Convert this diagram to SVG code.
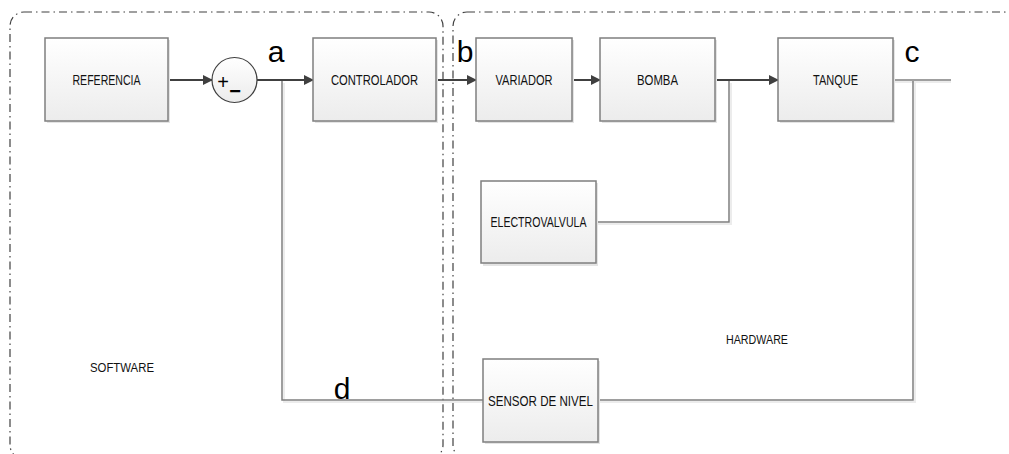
<svg xmlns="http://www.w3.org/2000/svg" width="1009" height="454" viewBox="0 0 1009 454">
<defs>
<linearGradient id="g" x1="0" y1="0" x2="0" y2="1"><stop offset="0" stop-color="#ffffff"/><stop offset="1" stop-color="#ececec"/></linearGradient>
<marker id="ah" markerWidth="10" markerHeight="10" refX="9" refY="5" orient="auto" markerUnits="userSpaceOnUse"><path d="M0,0 L10,5 L0,10 Z" fill="#404040"/></marker>
</defs>
<style>
.box{fill:url(#g);stroke:#7f7f7f;stroke-width:1.5}
.shadow{fill:#e4e4e4}
.lbl{font-family:"Liberation Sans",Arial,sans-serif;font-size:14px;fill:#111;text-anchor:middle}
.big{font-family:"Liberation Sans",Arial,sans-serif;font-size:30px;fill:#000;text-anchor:middle}
.area{fill:none;stroke:#404040;stroke-width:1.2;stroke-dasharray:8 4 1.5 4}
.arr{fill:none;stroke:#404040;stroke-width:2;marker-end:url(#ah)}
.ln{fill:none;stroke:#7f7f7f;stroke-width:1.5}
.lns{fill:none;stroke:#ececec;stroke-width:2}
</style>
<rect width="1009" height="454" fill="#fff"/>
<g id="software-area"><rect class="area" x="10" y="12" width="433" height="447" rx="14"/><text class="lbl" x="122" y="372" style="font-size:12px" textLength="64" lengthAdjust="spacingAndGlyphs">SOFTWARE</text></g>
<g id="hardware-area"><rect class="area" x="453" y="12" width="565" height="447" rx="14"/><text class="lbl" x="757" y="344" style="font-size:12px" textLength="62" lengthAdjust="spacingAndGlyphs">HARDWARE</text></g>
<g id="connectors">
<path class="lns" d="M284,83 V402 H485 M600,402 H915 V83 M731,83 V224 H598 M895,82 H951"/>
<line class="arr" x1="168" y1="80" x2="212" y2="80"/>
<line class="arr" x1="257" y1="80" x2="313" y2="80"/>
<line class="arr" x1="436" y1="80" x2="476" y2="80"/>
<line class="arr" x1="572" y1="80" x2="600" y2="80"/>
<line class="arr" x1="715" y1="80" x2="778" y2="80"/>
<path class="ln" d="M893,80 H951"/>
<path class="ln" d="M282,81 V400 H484"/>
<path class="ln" d="M913,81 V400 H598"/>
<path class="ln" d="M729,81 V222 H596"/>
</g>
<g id="referencia"><rect class="shadow" x="47" y="40" width="123" height="83"/><rect class="box" x="45" y="38" width="123" height="83"/><text class="lbl" x="106.5" y="85" textLength="68" lengthAdjust="spacingAndGlyphs">REFERENCIA</text></g>
<g id="sumador"><circle cx="234.5" cy="80" r="22.5" fill="url(#g)" stroke="#404040" stroke-width="1.2"/><text x="223" y="88.5" font-family="Liberation Sans,Arial,sans-serif" font-size="20" text-anchor="middle" fill="#000">+</text><text x="235" y="98" font-family="Liberation Sans,Arial,sans-serif" font-size="20" font-weight="bold" text-anchor="middle" fill="#000">−</text></g>
<g id="controlador"><rect class="shadow" x="315" y="40" width="123" height="83"/><rect class="box" x="313" y="38" width="123" height="83"/><text class="lbl" x="374.5" y="85" textLength="87" lengthAdjust="spacingAndGlyphs">CONTROLADOR</text></g>
<g id="variador"><rect class="shadow" x="478" y="40" width="96" height="83"/><rect class="box" x="476" y="38" width="96" height="83"/><text class="lbl" x="524" y="85" textLength="57" lengthAdjust="spacingAndGlyphs">VARIADOR</text></g>
<g id="bomba"><rect class="shadow" x="602" y="40" width="115" height="83"/><rect class="box" x="600" y="38" width="115" height="83"/><text class="lbl" x="657.5" y="85" textLength="41" lengthAdjust="spacingAndGlyphs">BOMBA</text></g>
<g id="tanque"><rect class="shadow" x="780" y="40" width="115" height="83"/><rect class="box" x="778" y="38" width="115" height="83"/><text class="lbl" x="835.5" y="85" textLength="45" lengthAdjust="spacingAndGlyphs">TANQUE</text></g>
<g id="electrovalvula"><rect class="shadow" x="483" y="183" width="115" height="83"/><rect class="box" x="481" y="181" width="115" height="82"/><text class="lbl" x="538.5" y="227" textLength="96" lengthAdjust="spacingAndGlyphs">ELECTROVALVULA</text></g>
<g id="sensor"><rect class="shadow" x="485" y="361" width="115" height="83"/><rect class="box" x="483" y="359" width="115" height="83"/><text class="lbl" x="540.5" y="405.5" style="font-size:15px" textLength="105" lengthAdjust="spacingAndGlyphs">SENSOR DE NIVEL</text></g>
<g id="labels">
<text class="big" x="276" y="62">a</text>
<text class="big" x="465" y="62">b</text>
<text class="big" x="912" y="62">c</text>
<text class="big" x="342" y="399">d</text>
</g>
</svg>
